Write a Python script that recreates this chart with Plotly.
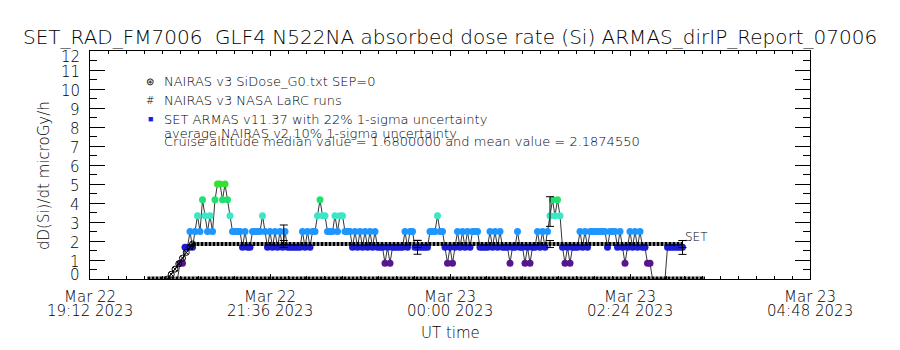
import plotly.graph_objects as go

# ---------------- data (time in minutes after 2023-03-22 19:12 UT) ----------------
x_tickvals = [0, 144, 288, 432, 576]
x_tick_date = ["Mar 22", "Mar 22", "Mar 23", "Mar 23", "Mar 23"]
x_tick_time = ["19:12 2023", "21:36 2023", "00:00 2023", "02:24 2023", "04:48 2023"]
y_tickvals = [0, 1, 2, 3, 4, 5, 6, 7, 8, 9, 10, 11, 12]

# ARMAS quantised dose-rate levels and their colours
armas_levels = [0.0, 0.833, 1.667, 2.5, 3.333, 4.167, 5.0]
armas_colors = ["rgba(0,0,0,0)", "#56168e", "#1c1cd2", "#1e96ff", "#3ee6c6", "#22e070", "#34e232"]
armas_t0 = 70      # first sample (minutes after 19:12)
armas_step = 2     # sampling cadence (minutes)
armas_code = [
    0,
    1, 1, 2, 2, 3, 2, 3, 4, 3, 5,
    4, 3, 4, 3, 5, 6, 6, 5, 6, 5,
    4, 3, 3, 3, 3, 2, 3, 2, 2, 3,
    3, 3, 3, 4, 3, 2, 3, 2, 3, 2,
    3, 2, 3, 2, 2, 2, 2, 2, 2, 3,
    2, 3, 2, 3, 3, 4, 5, 4, 4, 3,
    3, 3, 4, 3, 4, 4, 3, 3, 3, 2,
    3, 2, 3, 2, 3, 2, 3, 2, 3, 2,
    2, 2, 1, 2, 1, 2, 2, 2, 2, 2,
    3, 2, 3, 3, 2, 2, 2, 2, 2, 2,
    3, 3, 3, 4, 3, 3, 2, 1, 2, 1,
    2, 3, 2, 3, 2, 3, 2, 3, 3, 3,
    2, 2, 2, 2, 3, 2, 3, 2, 3, 2,
    2, 2, 1, 2, 2, 3, 2, 2, 1, 2,
    1, 2, 2, 3, 2, 3, 2, 3, 4, 5,
    4, 5, 4, 2, 1, 2, 1, 2, 2, 2,
    3, 2, 3, 2, 3, 3, 3, 3, 3, 3,
    3, 2, 3, 3, 3, 2, 3, 2, 1, 2,
    3, 2, 3, 2, 3, 2, 2, 1, 1, 0,
    0, 0, 0, 0, 0, 2, 2, 2, 2, 2,
    2, 2,
]

# error bars
err_min = [155, 262, 368, 474]
armas_err_val = [2.33, 1.67, 3.55, 1.66]
armas_err_frac = 0.22
nairas_err_val = [1.84, 1.84, 1.84, 1.84]
nairas_err_frac = 0.10

# NAIRAS v3 SiDose (ascent ramp and cruise plateau)
nairas_ramp_min = [62, 65, 68, 71, 74, 77, 80, 82]
nairas_ramp_val = [0.0, 0.25, 0.52, 0.8, 1.1, 1.4, 1.68, 1.84]
nairas_cruise_min = [82, 474]
nairas_cruise_val = [1.84, 1.84]

# NAIRAS LaRC runs (zero line)
larc_min = [46, 492]
larc_val = [0.0, 0.0]

set_label_min, set_label_val = 474, 2.23

# ---------------- figure ----------------
FONT = "DejaVu Sans"
W = 200
L, R, T, B = 90, 810, 51, 279


def P(px, py):
    return (px - L) / (R - L), (B - py) / (B - T)


armas_t = [armas_t0 + armas_step * k for k in range(len(armas_code))]
armas_y = [armas_levels[c] for c in armas_code]
armas_c = [armas_colors[c] for c in armas_code]

fig = go.Figure()

fig.add_trace(go.Scatter(
    x=larc_min, y=larc_val, mode="lines",
    line=dict(color="black", width=5, dash="3px,1px"), hoverinfo="skip"))

fig.add_trace(go.Scatter(
    x=armas_t, y=armas_y, mode="lines+markers",
    line=dict(color="black", width=0.8),
    marker=dict(symbol="circle", size=7, color=armas_c, line=dict(width=0)),
    cliponaxis=True))

fig.add_trace(go.Scatter(
    x=nairas_ramp_min, y=nairas_ramp_val, mode="lines+markers",
    line=dict(color="black", width=1),
    marker=dict(symbol="circle-x-open", size=6, color="black", line=dict(width=1))))

fig.add_trace(go.Scatter(
    x=nairas_cruise_min, y=nairas_cruise_val, mode="lines",
    line=dict(color="black", width=4, dash="3px,1px")))

fig.add_trace(go.Scatter(
    x=err_min, y=armas_err_val, mode="markers",
    marker=dict(size=1, color="rgba(0,0,0,0)"),
    error_y=dict(type="data", array=[v * armas_err_frac for v in armas_err_val],
                 color="black", thickness=1, width=4)))

fig.add_trace(go.Scatter(
    x=err_min, y=nairas_err_val, mode="markers",
    marker=dict(size=1, color="rgba(0,0,0,0)"),
    error_y=dict(type="data", array=[v * nairas_err_frac for v in nairas_err_val],
                 color="black", thickness=1, width=4)))

ann = []
# title
tx, ty = P(450, 37)
ann.append(dict(x=tx, y=ty, xref="paper", yref="paper", showarrow=False,
                text="SET_RAD_FM7006  GLF4 N522NA absorbed dose rate (Si) ARMAS_dirIP_Report_07006",
                font=dict(size=20), xanchor="center", yanchor="middle"))
# y tick labels (IDL style: end labels nudged inside the axis span)
for v in y_tickvals:
    shift = -6 if v == y_tickvals[-1] else (4.5 if v == y_tickvals[0] else -1.5)
    ann.append(dict(x=P(82, 0)[0], y=v, xref="paper", yref="y", showarrow=False,
                    text=str(v), font=dict(size=15), xanchor="right", yanchor="middle",
                    yshift=shift))
# x tick labels (two lines)
for v, d, t in zip(x_tickvals, x_tick_date, x_tick_time):
    ann.append(dict(x=v, y=P(0, 297)[1], xref="x", yref="paper", showarrow=False,
                    text=d, font=dict(size=15), xanchor="center", yanchor="middle"))
    ann.append(dict(x=v, y=P(0, 311)[1], xref="x", yref="paper", showarrow=False,
                    text=t, font=dict(size=15), xanchor="center", yanchor="middle"))
# axis titles
ax, ay = P(450, 333)
ann.append(dict(x=ax, y=ay, xref="paper", yref="paper", showarrow=False, text="UT time",
                font=dict(size=15), xanchor="center", yanchor="middle"))
ax, ay = P(44, 176)
ann.append(dict(x=ax, y=ay, xref="paper", yref="paper", showarrow=False,
                text="dD(Si)/dt microGy/h", textangle=-90,
                font=dict(size=15), xanchor="center", yanchor="middle"))
# legend
legend_rows = [
    ("\u229b", "black", 10, 81.5, "NAIRAS v3 SiDose_G0.txt SEP=0"),
    ("#", "black", 10, 100.5, "NAIRAS v3 NASA LaRC runs"),
    ("\u25a0", "#1c1ce6", 9, 119, "SET ARMAS v11.37 with 22% 1-sigma uncertainty"),
]
for sym, col, sz, py, txt in legend_rows:
    sx, sy = P(150, py)
    ann.append(dict(x=sx, y=sy, xref="paper", yref="paper", showarrow=False, text=sym,
                    font=dict(size=sz, color=col), xanchor="center", yanchor="middle"))
    lx, ly = P(162, py)
    ann.append(dict(x=lx, y=ly, xref="paper", yref="paper", showarrow=False, text=txt,
                    font=dict(size=13), xanchor="left", yanchor="middle"))
lx, ly = P(162, 133.5)
ann.append(dict(x=lx, y=ly, xref="paper", yref="paper", showarrow=False,
                text="average NAIRAS v2 10% 1-sigma uncertainty",
                font=dict(size=13), xanchor="left", yanchor="middle"))
lx, ly = P(162, 141.5)
ann.append(dict(x=lx, y=ly, xref="paper", yref="paper", showarrow=False,
                text="Cruise altitude median value = 1.6800000 and mean value = 2.1874550",
                font=dict(size=13), xanchor="left", yanchor="middle"))
# SET label
ann.append(dict(x=set_label_min, y=set_label_val, xref="x", yref="y", showarrow=False,
                text="SET", font=dict(size=12), xanchor="left", yanchor="middle"))

fig.update_layout(
    width=900, height=350,
    margin=dict(l=L, r=900 - R, t=T, b=350 - B, pad=0),
    paper_bgcolor="white", plot_bgcolor="white",
    showlegend=False,
    font=dict(family=FONT, color="black", weight=W),
    annotations=ann,
    xaxis=dict(range=[0, 576], tickmode="array", tickvals=x_tickvals, showticklabels=False,
               ticks="inside", ticklen=5, tickcolor="black", tickwidth=1,
               minor=dict(dtick=14.4, tick0=0, ticks="inside", ticklen=3, tickcolor="black"),
               showgrid=False, zeroline=False, showline=True, linecolor="black", linewidth=1,
               mirror="allticks"),
    yaxis=dict(range=[0, 12], tickmode="array", tickvals=y_tickvals, showticklabels=False,
               ticks="inside", ticklen=15, tickcolor="black", tickwidth=1,
               minor=dict(dtick=0.5, tick0=0, ticks="inside", ticklen=7, tickcolor="black"),
               showgrid=False, zeroline=False, showline=True, linecolor="black", linewidth=1,
               mirror="allticks"),
)

fig.write_html("out.html")
